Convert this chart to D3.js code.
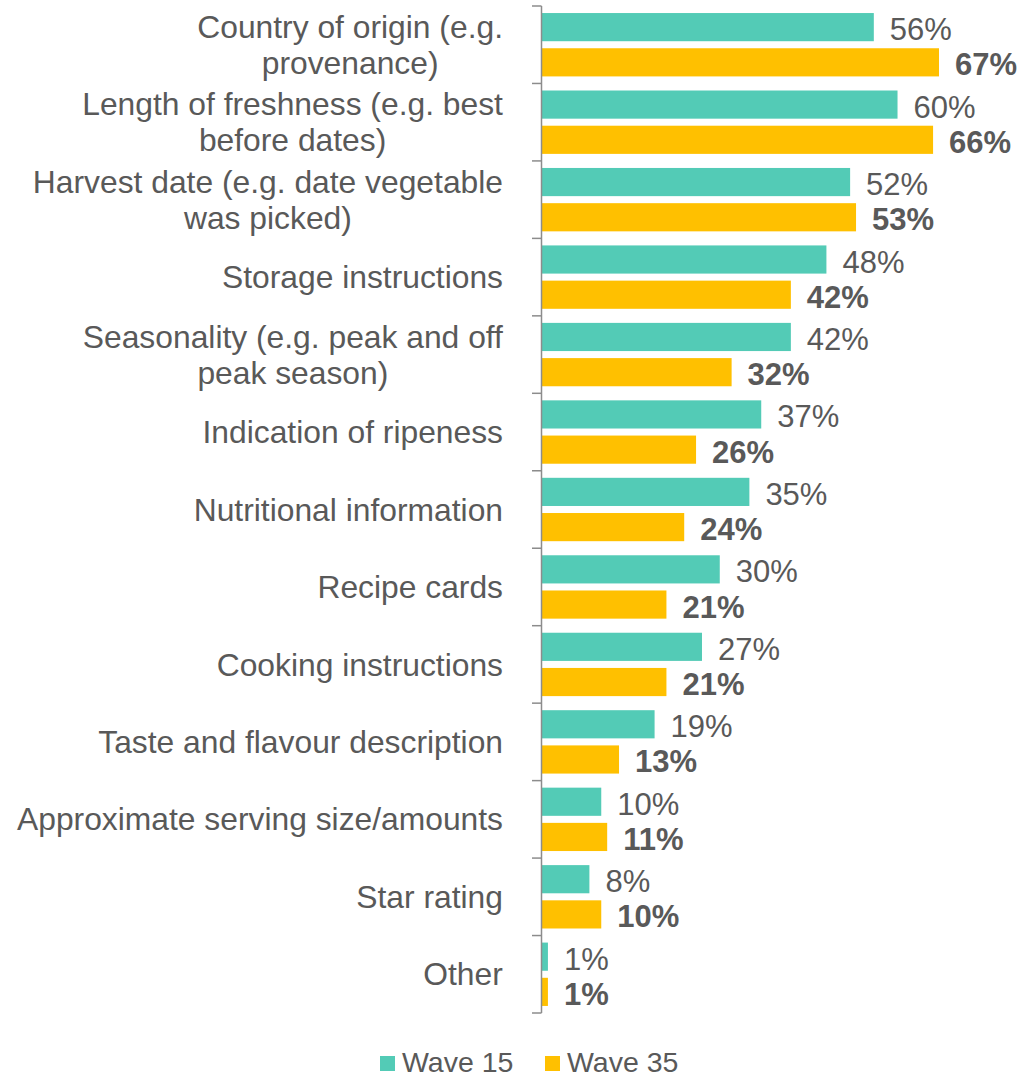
<!DOCTYPE html>
<html>
<head>
<meta charset="utf-8">
<script src="https://cdn.jsdelivr.net/npm/d3@7"></script>
<style>
  html, body { margin: 0; padding: 0; background: #fff; }
  svg { display: block; font-family: "Liberation Sans", Arial, sans-serif; }
</style>
</head>
<body>
<svg id="chart" width="1036" height="1079"></svg>
<script>
// Category labels (lines split where the label wraps)
const categories = [
  ["Country of origin (e.g.", "provenance)"],
  ["Length of freshness (e.g. best", "before dates)"],
  ["Harvest date (e.g. date vegetable", "was picked)"],
  ["Storage instructions"],
  ["Seasonality (e.g. peak and off", "peak season)"],
  ["Indication of ripeness"],
  ["Nutritional information"],
  ["Recipe cards"],
  ["Cooking instructions"],
  ["Taste and flavour description"],
  ["Approximate serving size/amounts"],
  ["Star rating"],
  ["Other"]
];
const seriesNames = ["Wave 15", "Wave 35"];
const wave15 = [56, 60, 52, 48, 42, 37, 35, 30, 27, 19, 10, 8, 1];
const wave35 = [67, 66, 53, 42, 32, 26, 24, 21, 21, 13, 11, 10, 1];
const colors = ["#53CBB6", "#FFC000"];

const svg = d3.select("#chart");
const textColor = "#595959";
const axisColor = "#8C8C8C";

const keys = categories.map((c, i) => i);
const x = d3.scaleLinear().domain([0, 67]).range([542, 939]);
const y = d3.scaleBand().domain(keys).range([6, 1013]).padding(0);
const ySub = d3.scaleBand().domain(seriesNames).range([0, y.bandwidth()]).padding(0.2);

const rows = keys.map(i => ({ i, values: [wave15[i], wave35[i]] }));

// Bars and value labels
const groups = svg.append("g").selectAll("g")
  .data(rows).join("g")
  .attr("transform", d => `translate(0,${y(d.i)})`);

groups.selectAll("rect")
  .data(d => d.values.map((v, s) => ({ v, s })))
  .join("rect")
  .attr("x", x(0))
  .attr("y", d => ySub(seriesNames[d.s]))
  .attr("width", d => x(d.v) - x(0))
  .attr("height", ySub.bandwidth())
  .attr("fill", d => colors[d.s]);

groups.selectAll("text.val")
  .data(d => d.values.map((v, s) => ({ v, s })))
  .join("text")
  .attr("class", "val")
  .attr("x", d => x(d.v) + 16)
  .attr("y", d => ySub(seriesNames[d.s]) + ySub.bandwidth() / 2)
  .attr("dy", "0.42em")
  .attr("font-size", 31)
  .attr("font-weight", d => d.s === 1 ? "bold" : "normal")
  .attr("fill", textColor)
  .text(d => d.v + "%");

// Category axis: vertical line with tick marks at band boundaries
const axis = svg.append("g");
axis.append("line")
  .attr("x1", 541.5).attr("x2", 541.5)
  .attr("y1", y.range()[0]).attr("y2", y.range()[1])
  .attr("stroke", axisColor).attr("stroke-width", 1.5);
const boundaries = keys.map(i => y(i)).concat([y.range()[1]]);
axis.selectAll("line.tick")
  .data(boundaries).join("line")
  .attr("class", "tick")
  .attr("x1", 532).attr("x2", 541.5)
  .attr("y1", d => d).attr("y2", d => d)
  .attr("stroke", axisColor).attr("stroke-width", 1.5);

// Category labels, centred as a block and right-aligned against the axis
const labelRight = 503;
const lineH = 36;
const labels = svg.append("g").selectAll("text")
  .data(rows).join("text")
  .attr("font-size", 31.8)
  .attr("fill", textColor)
  .attr("text-anchor", "middle");
labels.each(function(d) {
  const lines = categories[d.i];
  const t = d3.select(this);
  const cy = y(d.i) + y.bandwidth() / 2;
  lines.forEach((ln, k) => {
    t.append("tspan")
      .attr("x", 0)
      .attr("y", cy + (k - (lines.length - 1) / 2) * lineH)
      .attr("dy", "0.35em")
      .text(ln);
  });
  const w = this.getBBox().width;
  t.attr("transform", `translate(${labelRight - w / 2},0)`);
});

// Legend
const legend = svg.append("g");
const legendX = [380, 545];
seriesNames.forEach((name, s) => {
  legend.append("rect")
    .attr("x", legendX[s]).attr("y", 1056)
    .attr("width", 15).attr("height", 15)
    .attr("fill", colors[s]);
  legend.append("text")
    .attr("x", legendX[s] + 22).attr("y", 1072)
    .attr("font-size", 28.5)
    .attr("fill", textColor)
    .text(name);
});
</script>
</body>
</html>
